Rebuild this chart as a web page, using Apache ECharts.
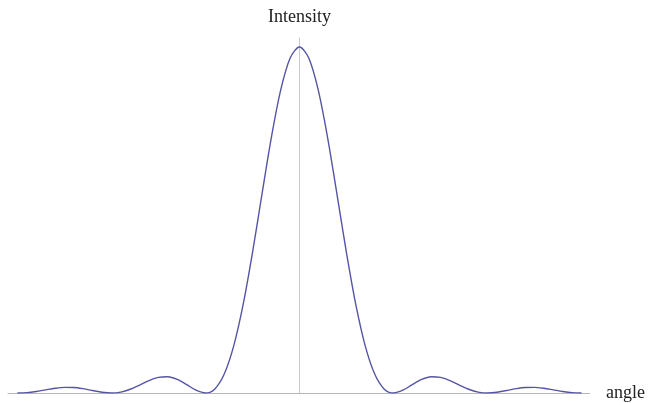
<!DOCTYPE html>
<html>
<head>
<meta charset="utf-8">
<script src="https://cdn.jsdelivr.net/npm/echarts@6/dist/echarts.min.js"></script>
<style>html,body{margin:0;padding:0;background:#fff;}#c{width:651px;height:403px;}</style>
</head>
<body>
<div id="c"></div>
<script>
// angle in units of pi
var angles = [-3.0,-2.9,-2.8,-2.7,-2.6,-2.5,-2.4,-2.3,-2.2,-2.1,-2.0,-1.9,-1.8,-1.7,-1.6,-1.5,-1.4,-1.3,-1.2,-1.1,-1.0,-0.9,-0.8,-0.7,-0.6,-0.5,-0.4,-0.3,-0.2,-0.1,0.0,0.1,0.2,0.3,0.4,0.5,0.6,0.7,0.8,0.9,1.0,1.1,1.2,1.3,1.4,1.5,1.6,1.7,1.8,1.9,2.0,2.1,2.2,2.3,2.4,2.5,2.6,2.7,2.8,2.9,3.0];
var intensity = [0.0000,0.0012,0.0045,0.0091,0.0136,0.0162,0.0159,0.0125,0.0072,0.0022,0.0000,0.0027,0.0108,0.0230,0.0358,0.0450,0.0468,0.0392,0.0243,0.0080,0.0000,0.0119,0.0547,0.1353,0.2546,0.4053,0.5728,0.7368,0.8751,0.9675,1.0000,0.9675,0.8751,0.7368,0.5728,0.4053,0.2546,0.1353,0.0547,0.0119,0.0000,0.0080,0.0243,0.0392,0.0468,0.0450,0.0358,0.0230,0.0108,0.0027,0.0000,0.0022,0.0072,0.0125,0.0159,0.0162,0.0136,0.0091,0.0045,0.0012,0.0000];
var xName = 'angle';
var yName = 'Intensity';

var pts = angles.map(function(a, i){ return [a, intensity[i]]; });
var chart = echarts.init(document.getElementById('c'));
var font = "'Liberation Serif','DejaVu Serif',serif";
chart.setOption({
  animation: false,
  grid: {left: 8, right: 61, top: 38, bottom: 10},
  xAxis: {
    type: 'value', min: -3.1, max: 3.09,
    name: xName, nameLocation: 'end', nameGap: 16,
    nameTextStyle: {fontFamily: font, fontSize: 18, color: '#222', verticalAlign: 'middle', padding: [0, 0, 0, 0]},
    axisLine: {show: true, onZero: true, lineStyle: {color: '#b8b8b8', width: 1}},
    axisTick: {show: false}, axisLabel: {show: false}, splitLine: {show: false}
  },
  yAxis: {
    type: 'value', min: 0, max: 1.026,
    name: yName, nameLocation: 'end', nameGap: 12,
    nameTextStyle: {fontFamily: font, fontSize: 18, color: '#222', align: 'center'},
    axisLine: {show: true, onZero: true, lineStyle: {color: '#c8c8c8', width: 1}},
    axisTick: {show: false}, axisLabel: {show: false}, splitLine: {show: false}
  },
  series: [{
    type: 'line', data: pts, smooth: 0.3, showSymbol: false,
    lineStyle: {color: '#5555a5', width: 1.4}
  }]
});
</script>
</body>
</html>
